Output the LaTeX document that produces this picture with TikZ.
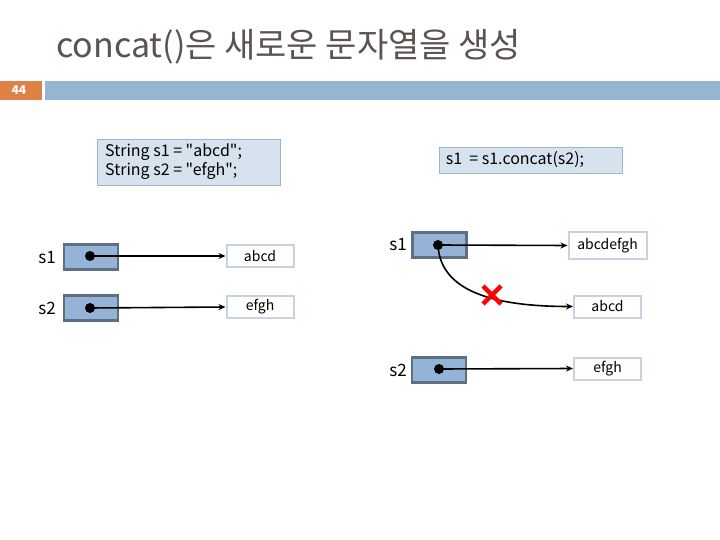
\documentclass[tikz,border=0pt]{standalone}
\usepackage{fontspec}
\setmainfont{Noto Sans CJK KR}
\newfontfamily\kr{Noto Sans CJK KR}
\usetikzlibrary{arrows.meta,calc}
\definecolor{titlec}{HTML}{5B5350}
\definecolor{orangec}{HTML}{DF8044}
\definecolor{barc}{HTML}{94B6D3}
\definecolor{codefill}{HTML}{D6E2ED}
\definecolor{codeline}{HTML}{9FB5CA}
\definecolor{ptrfill}{HTML}{95B3D7}
\definecolor{ptrline}{HTML}{5E6F84}
\definecolor{valline}{HTML}{C6D3E0}
\begin{document}
\begin{tikzpicture}[x=1pt,y=-1pt,
  codebox/.style={draw=codeline,fill=codefill,line width=1pt,inner sep=0pt,anchor=north west,text=black},
  ptrbox/.style={draw=ptrline,fill=ptrfill,line width=2.2pt,minimum width=54pt,minimum height=25pt,inner sep=0pt},
  valbox/.style={draw=valline,fill=white,line width=2pt,minimum width=67pt,minimum height=22pt,inner sep=0pt,font=\fontsize{14}{16}\selectfont},
  lbl/.style={font=\fontsize{17}{19}\selectfont,inner sep=0pt},
  dot/.style={circle,fill=black,minimum size=10pt,inner sep=0pt},
  arr/.style={line width=1.6pt,-{Stealth[length=7pt,width=6pt]}},
  cross/.style={draw=red,line width=4.5pt}
]
\useasboundingbox (0,0) rectangle (720,540);
% header
\node[anchor=base west,inner sep=0pt,text=titlec,font=\kr\fontsize{34}{38}\selectfont] (title) at (56,58) {concat()은 새로운 문자열을 생성};
\fill[orangec] (0,81) rectangle (42,100);
\node[text=white,font=\bfseries\fontsize{12}{13}\selectfont,inner sep=0pt] (num) at (19,90.5) {44};
\fill[barc] (45,81) rectangle (720,100);
% code boxes
\node[codebox,minimum width=183pt,minimum height=46pt] (code1) at (97,139) {};
\node[anchor=west,inner sep=0pt,align=left,font=\kr\fontsize{16}{19}\selectfont] (code1t) at (105,162) {String s1 = "abcd";\\String s2 = "efgh";};
\node[codebox,minimum width=183pt,minimum height=26pt] (code2) at (439,147) {};
\node[inner sep=0pt,font=\kr\fontsize{16}{18}\selectfont] (code2t) at (515,160) {s1\ \ = s1.concat(s2);};
% left diagram
\node[lbl] (ls1) at (47,258) {s1};
\node[ptrbox] (lp1) at (91,257) {};
\node[dot] (ld1) at (90,256) {};
\node[valbox] (lv1) at (260,256) {abcd};
\draw[arr] (ld1.center) -- (lv1.west);
\node[lbl] (ls2) at (47,308) {s2};
\node[ptrbox] (lp2) at (91,308) {};
\node[dot] (ld2) at (90,308) {};
\node[valbox] (lv2) at (260,307) {efgh};
\draw[arr] (ld2.center) -- (lv2.west);
% right diagram
\node[lbl] (rs1) at (398,245) {s1};
\node[ptrbox] (rp1) at (439.5,245) {};
\node[dot] (rd1) at (438,245) {};
\node[valbox,minimum width=78pt,minimum height=27pt] (rv1) at (607.5,245.5) {abcdefgh};
\draw[arr] (rd1.center) -- (rv1.west);
\node[valbox] (rv2) at (607.5,306.5) {abcd};
\draw[arr] (rd1.center) .. controls (440,285) and (480,306.5) .. (rv2.west);
\coordinate (xc) at (492,295);
\draw[cross] ($(xc)+(-9,-9)$) -- ($(xc)+(9,9)$);
\draw[cross] ($(xc)+(-9,9)$) -- ($(xc)+(9,-9)$);
\node[lbl] (rs2) at (398,370) {s2};
\node[ptrbox] (rp2) at (439,370) {};
\node[dot] (rd2) at (439,369) {};
\node[valbox] (rv3) at (607.5,368.5) {efgh};
\draw[arr] (rd2.center) -- (rv3.west);
\end{tikzpicture}
\end{document}
